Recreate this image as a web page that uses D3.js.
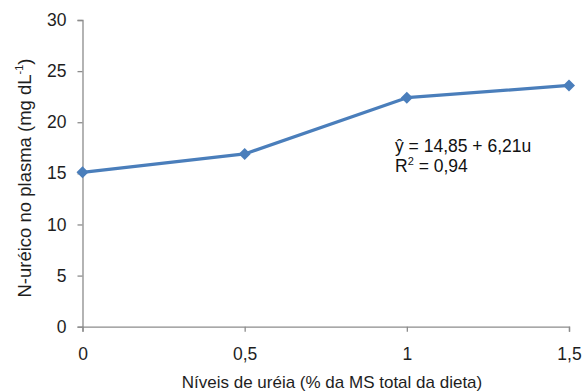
<!DOCTYPE html>
<html>
<head>
<meta charset="utf-8">
<script src="https://cdn.jsdelivr.net/npm/d3@7"></script>
<style>
  html, body { margin: 0; padding: 0; background: #fff; }
  svg { display: block; font-family: "Liberation Sans", Arial, sans-serif; }
</style>
</head>
<body>
<svg id="chart" width="585" height="392"></svg>
<script>
// Plasma urea nitrogen by dietary urea level
const ureaLevels = [0, 0.5, 1, 1.5];
const plasmaN = [15.1, 16.9, 22.4, 23.6];
const xTicks = [0, 0.5, 1, 1.5];
const yTicks = [0, 5, 10, 15, 20, 25, 30];

const svg = d3.select("#chart");
const fmt = d => String(d).replace(".", ",");

const x = d3.scaleLinear().domain([0, 1.5]).range([82.5, 569]);
const y = d3.scaleLinear().domain([0, 30]).range([326.7, 20]);

const axisColor = "#8c8c8c";
const textColor = "#1e1e1e";
const tickFont = 17.5;

// y axis
const yAxis = svg.append("g")
  .attr("transform", `translate(${x(0)},0)`)
  .call(d3.axisLeft(y).tickValues(yTicks).tickSize(5).tickPadding(11).tickFormat(fmt));
yAxis.select(".domain").attr("stroke", axisColor).attr("stroke-width", 1.3);
yAxis.selectAll(".tick line").attr("stroke", axisColor).attr("stroke-width", 1.3);
yAxis.selectAll(".tick text").attr("font-size", tickFont).attr("fill", textColor)
  .attr("font-family", "Liberation Sans, Arial, sans-serif");

// x axis
const xAxis = svg.append("g")
  .attr("transform", `translate(0,${y(0)})`)
  .call(d3.axisBottom(x).tickValues(xTicks).tickSize(5).tickPadding(16).tickFormat(fmt));
xAxis.select(".domain").attr("stroke", axisColor).attr("stroke-width", 1.3);
xAxis.selectAll(".tick line").attr("stroke", axisColor).attr("stroke-width", 1.3);
xAxis.selectAll(".tick text").attr("font-size", tickFont).attr("fill", textColor)
  .attr("font-family", "Liberation Sans, Arial, sans-serif");

// axis titles
svg.append("text")
  .attr("x", 332).attr("y", 388)
  .attr("text-anchor", "middle")
  .attr("font-size", 17).attr("fill", textColor)
  .text("Níveis de uréia (% da MS total da dieta)");

const yTitle = svg.append("text")
  .attr("transform", `translate(31,178) rotate(-90)`)
  .attr("text-anchor", "middle")
  .attr("font-size", 18.5).attr("fill", textColor);
yTitle.append("tspan").text("N-uréico no plasma (mg dL");
yTitle.append("tspan").attr("font-size", 11).attr("dy", -8).text("-1");
yTitle.append("tspan").attr("dy", 8).text(")");

// series line
const pts = ureaLevels.map((u, i) => [u, plasmaN[i]]);
svg.append("path")
  .datum(pts)
  .attr("fill", "none")
  .attr("stroke", "#4a7ebb")
  .attr("stroke-width", 3.2)
  .attr("stroke-linejoin", "round")
  .attr("d", d3.line().x(d => x(d[0])).y(d => y(d[1])));

// diamond markers
svg.selectAll(".marker")
  .data(pts)
  .join("path")
  .attr("class", "marker")
  .attr("transform", d => `translate(${x(d[0])},${y(d[1])})`)
  .attr("d", "M0,-6L6,0L0,6L-6,0Z")
  .attr("fill", "#4a7ebb");

// regression annotation
const eq = svg.append("g").attr("font-size", 17.5).attr("fill", "#111");
eq.append("text").attr("x", 395).attr("y", 152).text("ŷ = 14,85 + 6,21u");
const r2 = eq.append("text").attr("x", 395).attr("y", 172);
r2.append("tspan").text("R");
r2.append("tspan").attr("font-size", 11).attr("dy", -7).text("2");
r2.append("tspan").attr("dy", 7).text(" = 0,94");
</script>
</body>
</html>
